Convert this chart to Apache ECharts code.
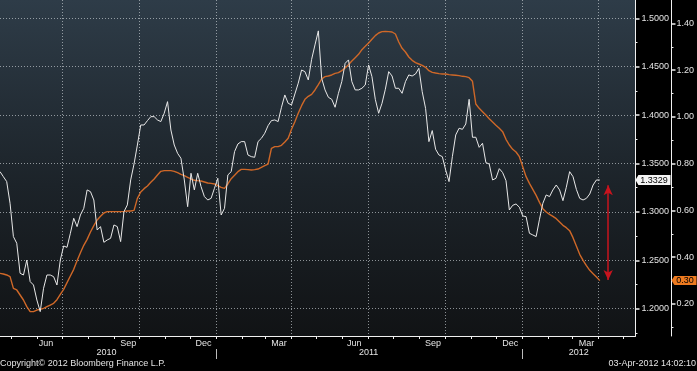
<!DOCTYPE html>
<html>
<head>
<meta charset="utf-8">
<script src="https://cdn.jsdelivr.net/npm/echarts@6/dist/echarts.min.js"></script>
<style>
html,body{margin:0;padding:0;background:#000;}
#chart{width:697px;height:371px;}
</style>
</head>
<body>
<div id="chart"></div>
<script>
// ---------- data ----------
const dates = [
'2010-04-18','2010-04-22','2010-04-26','2010-04-30','2010-05-04','2010-05-08','2010-05-12','2010-05-16','2010-05-20','2010-05-24',
'2010-05-28','2010-06-01','2010-06-05','2010-06-09','2010-06-13','2010-06-17','2010-06-21','2010-06-25','2010-06-29','2010-07-03',
'2010-07-07','2010-07-11','2010-07-15','2010-07-19','2010-07-23','2010-07-27','2010-07-31','2010-08-04','2010-08-08','2010-08-12',
'2010-08-16','2010-08-20','2010-08-24','2010-08-28','2010-09-01','2010-09-05','2010-09-09','2010-09-13','2010-09-17','2010-09-21',
'2010-09-25','2010-09-29','2010-10-03','2010-10-07','2010-10-11','2010-10-15','2010-10-19','2010-10-23','2010-10-27','2010-10-31',
'2010-11-04','2010-11-08','2010-11-12','2010-11-16','2010-11-20','2010-11-24','2010-11-28','2010-12-02','2010-12-06','2010-12-10',
'2010-12-14','2010-12-18','2010-12-22','2010-12-26','2010-12-30','2011-01-03','2011-01-07','2011-01-11','2011-01-15','2011-01-19',
'2011-01-23','2011-01-27','2011-01-31','2011-02-04','2011-02-08','2011-02-12','2011-02-16','2011-02-20','2011-02-24','2011-02-28',
'2011-03-04','2011-03-08','2011-03-12','2011-03-16','2011-03-20','2011-03-24','2011-03-28','2011-04-01','2011-04-05','2011-04-09',
'2011-04-13','2011-04-17','2011-04-21','2011-04-25','2011-04-29','2011-05-03','2011-05-07','2011-05-11','2011-05-15','2011-05-19',
'2011-05-23','2011-05-27','2011-05-31','2011-06-04','2011-06-08','2011-06-12','2011-06-16','2011-06-20','2011-06-24','2011-06-28',
'2011-07-02','2011-07-06','2011-07-10','2011-07-14','2011-07-18','2011-07-22','2011-07-26','2011-07-30','2011-08-03','2011-08-07',
'2011-08-11','2011-08-15','2011-08-19','2011-08-23','2011-08-27','2011-08-31','2011-09-04','2011-09-08','2011-09-12','2011-09-16',
'2011-09-20','2011-09-24','2011-09-28','2011-10-02','2011-10-06','2011-10-10','2011-10-14','2011-10-18','2011-10-22','2011-10-26',
'2011-10-30','2011-11-03','2011-11-07','2011-11-11','2011-11-15','2011-11-19','2011-11-23','2011-11-27','2011-12-01','2011-12-05',
'2011-12-09','2011-12-13','2011-12-17','2011-12-21','2011-12-25','2011-12-29','2012-01-02','2012-01-06','2012-01-10','2012-01-14',
'2012-01-18','2012-01-22','2012-01-26','2012-01-30','2012-02-03','2012-02-07','2012-02-11','2012-02-15','2012-02-19','2012-02-23',
'2012-02-27','2012-03-02','2012-03-06','2012-03-10','2012-03-14','2012-03-18','2012-03-22','2012-03-26','2012-03-30','2012-04-03'
];
const eurusd = [
1.3416,1.3364,1.3313,1.3089,1.2745,1.2676,1.2366,1.2348,1.2503,1.2280,1.2245,1.2090,1.1970,1.2211,1.2348,1.2348,1.2331,1.2245,1.2503,1.2648,1.2634,1.2779,1.2934,1.2848,1.2968,1.3037,1.3227,1.3209,1.3123,1.2813,1.2848,1.2686,
1.2710,1.2727,1.2865,1.2848,1.2693,1.3003,1.3072,1.3330,1.3495,1.3691,1.3898,1.3898,1.3943,1.3984,1.3984,1.3950,1.3933,1.4019,1.4139,1.3846,1.3691,1.3605,1.3554,1.3330,1.3054,1.3399,1.3227,1.3399,1.3261,1.3158,1.3123,1.3140,
1.3244,1.3347,1.2968,1.3037,1.3382,1.3416,1.3623,1.3702,1.3726,1.3726,1.3588,1.3571,1.3564,1.3726,1.3760,1.3812,1.3891,1.3943,1.3950,1.3933,1.4081,1.4208,1.4122,1.4105,1.4218,1.4329,1.4466,1.4449,1.4363,1.4576,1.4725,
1.4870,1.4380,1.4260,1.4184,1.4163,1.4081,1.4225,1.4346,1.4535,1.4570,1.4346,1.4260,1.4260,1.4277,1.4311,1.4518,1.4397,1.4163,1.4019,1.4122,1.4267,1.4449,1.4404,1.4277,1.4277,1.4225,1.4346,1.4415,1.4404,1.4425,1.4483,1.4242,
1.4070,1.3726,1.3840,1.3647,1.3588,1.3571,1.3433,1.3313,1.3571,1.3795,1.3864,1.3853,1.3908,1.4163,1.3771,1.3771,1.3667,1.3709,1.3509,1.3495,1.3330,1.3347,1.3447,1.3406,1.3323,1.3020,1.3068,1.3082,1.3048,1.2958,1.2951,
1.2779,1.2762,1.2745,1.2924,1.3089,1.3175,1.3158,1.3227,1.3278,1.3227,1.3116,1.3254,1.3416,1.3364,1.3233,1.3140,1.3123,1.3140,1.3185,1.3278,1.3330,1.3329
];
const corr = [
0.3312,0.3283,0.3241,0.3169,0.2670,0.2599,0.2385,0.2171,0.1886,0.1672,0.1672,0.1743,0.1772,0.1815,0.1886,0.1957,0.2028,0.2185,0.2414,0.2627,0.2913,0.3198,0.3483,0.3854,0.4196,0.4510,0.4766,0.5080,0.5351,0.5594,0.5750,0.5893,
0.5950,0.5950,0.5950,0.5950,0.5950,0.5964,0.5979,0.5979,0.6007,0.6521,0.6791,0.6934,0.7048,0.7205,0.7348,0.7519,0.7676,0.7704,0.7704,0.7704,0.7676,0.7619,0.7547,0.7490,0.7419,0.7348,0.7291,0.7276,0.7262,0.7219,0.7176,0.7162,
0.7134,0.7062,0.6991,0.6948,0.7134,0.7362,0.7504,0.7661,0.7761,0.7761,0.7747,0.7733,0.7747,0.7775,0.7847,0.7918,0.7989,0.8660,0.8731,0.8731,0.8788,0.8930,0.9087,0.9472,0.9800,1.0157,1.0485,1.0756,1.0884,1.0970,1.1155,
1.1383,1.1626,1.1725,1.1754,1.1797,1.1868,1.1897,1.1982,1.2096,1.2239,1.2396,1.2538,1.2681,1.2881,1.3023,1.3166,1.3323,1.3480,1.3594,1.3651,1.3665,1.3651,1.3636,1.3551,1.3209,1.2938,1.2781,1.2567,1.2424,1.2324,1.2267,1.2210,
1.2125,1.1982,1.1911,1.1882,1.1854,1.1840,1.1840,1.1811,1.1797,1.1783,1.1768,1.1740,1.1725,1.1683,1.1526,1.0556,1.0371,1.0228,1.0086,0.9929,0.9786,0.9644,0.9515,0.9373,0.9045,0.8802,0.8617,0.8503,0.8303,0.7875,0.7447,
0.7162,0.6906,0.6649,0.6349,0.6078,0.5936,0.5836,0.5750,0.5651,0.5508,0.5365,0.5266,0.5137,0.4838,0.4481,0.4125,0.3868,0.3640,0.3440,0.3298,0.3155,0.3000
];
const lastEurusd = 1.3329;
const lastCorr = 0.30;
const monthTickDates = ['2010-05-01','2010-06-01','2010-07-01','2010-08-01','2010-09-01','2010-10-01','2010-11-01','2010-12-01',
  '2011-01-01','2011-02-01','2011-03-01','2011-04-01','2011-05-01','2011-06-01','2011-07-01','2011-08-01','2011-09-01','2011-10-01','2011-11-01','2011-12-01',
  '2012-01-01','2012-02-01','2012-03-01','2012-04-01','2012-05-01'];
const monthLabelDates = ['2010-06-12','2010-09-18','2010-12-17','2011-03-17','2011-06-15','2011-09-17','2011-12-18','2012-03-18'];
const monthNames = ['Jan','Feb','Mar','Apr','May','Jun','Jul','Aug','Sep','Oct','Nov','Dec'];
const yearLabelDates = ['2010-08-23','2011-07-02','2012-03-09'];
const quarterDates = ['2010-07-01','2010-10-01','2011-01-01','2011-04-01','2011-07-01','2011-10-01','2012-01-01','2012-04-01'];
const yearSepDates = ['2011-01-01','2012-01-01'];
const leftTicks = [1.20,1.25,1.30,1.35,1.40,1.45,1.50];
const leftMinor = [1.175,1.225,1.275,1.325,1.375,1.425,1.475];
const rightTicks = [0.20,0.40,0.60,0.80,1.00,1.20,1.40];
const rightMinor = [0.10,0.30,0.50,0.70,0.90,1.10,1.30];
const arrowDate = '2012-04-13';
const arrowTop = 1.3275, arrowBottom = 1.2296;
const xMinDate = '2010-04-18 00', xMaxDate = '2012-05-15 14';

// ---------- helpers ----------
function ts(s){ const p = s.split(/[- :]/); return Date.UTC(+p[0], +p[1]-1, +p[2], +(p[3]||0)); }
const xMin = ts(xMinDate), xMax = ts(xMaxDate);

const chart = echarts.init(document.getElementById('chart'));
const FONT = 'Liberation Sans';
const txt = '#e4e4e4';
const dotted = {color:'rgba(205,210,215,0.65)', width:1, type:[1,2]};
function baseX(extra){
  return Object.assign({type:'value', min:xMin, max:xMax, gridIndex:0, position:'bottom',
    axisLine:{show:false}, axisTick:{show:false}, axisLabel:{show:false}, splitLine:{show:false}}, extra);
}
function baseY(extra){
  return Object.assign({type:'value', position:'right', axisLine:{show:false}, axisTick:{show:false},
    axisLabel:{show:false}, splitLine:{show:false}}, extra);
}
const option = {
  backgroundColor:'#000',
  animation:false,
  textStyle:{fontFamily:FONT},
  title:[
    {text:'Copyright\u00a9 2012 Bloomberg Finance L.P.', left:0, top:359, padding:0,
     textStyle:{color:txt, fontSize:9, fontWeight:'normal', fontFamily:FONT}},
    {text:'03-Apr-2012 14:02:10', right:1, top:359, padding:0,
     textStyle:{color:txt, fontSize:9, fontWeight:'normal', fontFamily:FONT}}
  ],
  grid:{left:0, right:61, top:0, bottom:35, show:true, borderWidth:0,
    backgroundColor: new echarts.graphic.LinearGradient(0,0,0,1,[{offset:0,color:'#2e3c48'},{offset:0.55,color:'#1c2329'},{offset:1,color:'#111315'}])},
  xAxis:[
    baseX({axisLine:{show:true, lineStyle:{color:'#f0f0f0', width:1}},
      axisTick:{show:true, length:3, customValues:monthTickDates.map(ts), lineStyle:{color:'#f0f0f0'}},
      axisLabel:{show:true, customValues:monthLabelDates.map(ts), margin:3, color:txt, fontSize:9,
        formatter:function(v){return monthNames[new Date(v).getUTCMonth()];}}}),
    baseX({axisLabel:{show:true, customValues:yearLabelDates.map(ts), margin:12, color:txt, fontSize:9,
        formatter:function(v){return String(new Date(v).getUTCFullYear());}}}),
    baseX({offset:13, axisTick:{show:true, length:10, customValues:yearSepDates.map(ts), lineStyle:{color:'#bbbbbb'}}}),
    baseX({axisTick:{show:false, customValues:quarterDates.map(ts)}, splitLine:{show:true, lineStyle:dotted}})
  ],
  yAxis:[
    baseY({min:1.1718, max:1.5189, offset:0,
      axisLine:{show:true, lineStyle:{color:'#f0f0f0'}},
      axisTick:{show:true, length:4, customValues:leftTicks, lineStyle:{color:'#f0f0f0', width:1.5}},
      axisLabel:{show:true, customValues:leftTicks, margin:6, color:txt, fontSize:9,
        formatter:function(v){return v.toFixed(4);}},
      splitLine:{show:true, lineStyle:dotted}}),
    baseY({min:0.0631, max:1.5005, offset:36,
      axisLine:{show:true, lineStyle:{color:'#f0f0f0'}},
      axisTick:{show:true, length:4, customValues:rightTicks, lineStyle:{color:'#f0f0f0', width:1.5}},
      axisLabel:{show:true, customValues:rightTicks, margin:5, color:txt, fontSize:9,
        formatter:function(v){return v.toFixed(2);}}}),
    baseY({min:1.1718, max:1.5189, offset:0,
      axisTick:{show:true, length:2, customValues:leftMinor, lineStyle:{color:'#f0f0f0'}}}),
    baseY({min:0.0631, max:1.5005, offset:36,
      axisTick:{show:true, length:2, customValues:rightMinor, lineStyle:{color:'#f0f0f0'}}})
  ],
  series:[
    {
      name:'corr', type:'line', xAxisIndex:0, yAxisIndex:1, z:2,
      data: dates.map(function(d,i){return [ts(d), corr[i]];}),
      showSymbol:false, symbol:'none',
      lineStyle:{color:'#cf6828', width:1.4},
      markPoint:{
        silent:true, symbol:'path://M0,5 L3,0 L26,0 L26,10 L3,10 Z', symbolSize:[25,9], symbolKeepAspect:false,
        symbolOffset:[48.5,0], itemStyle:{color:'#ee7a1f'},
        label:{show:true, position:'inside', color:'#000', fontSize:9, offset:[1,0], formatter:function(){return lastCorr.toFixed(2);}},
        data:[{coord:[xMax, lastCorr], value:lastCorr}]
      }
    },
    {
      name:'eurusd', type:'line', xAxisIndex:0, yAxisIndex:0, z:3,
      data: dates.map(function(d,i){return [ts(d), eurusd[i]];}),
      showSymbol:false, symbol:'none',
      lineStyle:{color:'#e8e8e8', width:1},
      markPoint:{
        silent:true, symbol:'path://M0,5 L3,0 L36,0 L36,10 L3,10 Z', symbolSize:[35,10], symbolKeepAspect:false,
        symbolOffset:[17.5,0], itemStyle:{color:'#f4f4f4'},
        label:{show:true, position:'inside', color:'#000', fontSize:9, offset:[1,0], formatter:function(){return lastEurusd.toFixed(4);}},
        data:[{coord:[xMax, lastEurusd], value:lastEurusd}]
      },
      markLine:{
        silent:true, symbol:['arrow','arrow'], symbolSize:[7,10],
        label:{show:false},
        lineStyle:{color:'#c8141e', width:1.5, type:'solid'},
        data:[[{coord:[ts(arrowDate), arrowTop]},{coord:[ts(arrowDate), arrowBottom]}]]
      }
    }
  ]
};
chart.setOption(option);
</script>
</body>
</html>
